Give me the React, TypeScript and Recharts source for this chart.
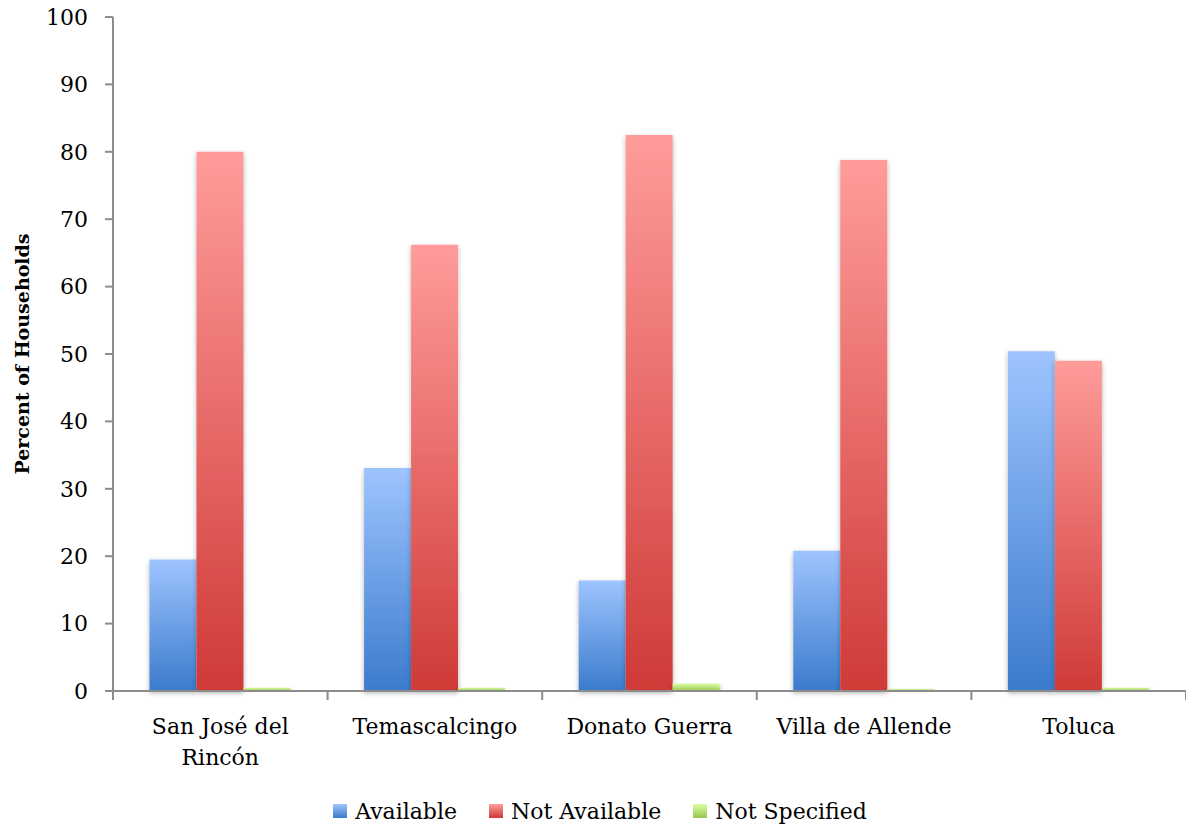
import React from 'react';
import { BarChart, Bar, XAxis, YAxis, Legend } from 'recharts';

const towns = ['San José del Rincón', 'Temascalcingo', 'Donato Guerra', 'Villa de Allende', 'Toluca'];
const available = [19.5, 33.1, 16.4, 20.8, 50.4];
const notAvailable = [80.0, 66.2, 82.5, 78.8, 49.0];
const notSpecified = [0.5, 0.5, 1.1, 0.3, 0.5];
const yTicks = [0, 10, 20, 30, 40, 50, 60, 70, 80, 90, 100];

const series = [
  { key: 'available', name: 'Available', top: '#9ec4ff', bottom: '#3b7bcc' },
  { key: 'notAvailable', name: 'Not Available', top: '#ff9c9a', bottom: '#cf3a37' },
  { key: 'notSpecified', name: 'Not Specified', top: '#dcffa6', bottom: '#98c44c' },
];

const data = towns.map((town, i) => ({
  town,
  available: available[i],
  notAvailable: notAvailable[i],
  notSpecified: notSpecified[i],
}));

const FONT = '"DejaVu Serif", serif';
const AXIS = '#8c8c8c';

// long names go on two lines, like the original
const wrap = (label: string) => {
  if (label.length <= 17) return [label];
  const lines: string[] = [];
  let cur = '';
  label.split(' ').forEach(w => {
    if (cur && (cur + ' ' + w).length > 13) {
      lines.push(cur);
      cur = w;
    } else {
      cur = cur ? cur + ' ' + w : w;
    }
  });
  if (cur) lines.push(cur);
  return lines;
};

const TownTick = (props: any) => {
  const { x, y, payload, index, width, visibleTicksCount } = props;
  const count = visibleTicksCount || towns.length;
  const half = width / count / 2;
  const lines = wrap(String(payload.value));
  return (
    <g>
      <line x1={x - half} x2={x - half} y1={y} y2={y + 9} stroke={AXIS} strokeWidth={2} />
      {index === count - 1 && (
        <line x1={x + half} x2={x + half} y1={y} y2={y + 9} stroke={AXIS} strokeWidth={2} />
      )}
      <text x={x} y={y + 43} textAnchor="middle" fontFamily={FONT} fontSize={22} fill="#000">
        {lines.map((l, i) => (
          <tspan key={i} x={x} dy={i === 0 ? 0 : 31}>{l}</tspan>
        ))}
      </text>
    </g>
  );
};

const LegendBox = () => (
  <div style={{ height: 40, display: 'flex', justifyContent: 'center', alignItems: 'center', paddingLeft: 14, fontFamily: FONT, fontSize: 22, color: '#000' }}>
    {series.map(s => (
      <div key={s.key} style={{ display: 'flex', alignItems: 'center', margin: '0 16px' }}>
        <div style={{ width: 14, height: 14, marginRight: 8, background: `linear-gradient(${s.top}, ${s.bottom})` }} />
        <span>{s.name}</span>
      </div>
    ))}
  </div>
);

const YLabel = (props: any) => {
  const { viewBox } = props;
  const cx = 22;
  const cy = viewBox.y + viewBox.height / 2;
  return (
    <text x={cx} y={cy} transform={`rotate(-90 ${cx} ${cy})`} textAnchor="middle" dominantBaseline="central"
      fontFamily={FONT} fontSize={19} fontWeight="bold" fill="#000">
      Percent of Households
    </text>
  );
};

export default function App() {
  return (
    <div style={{ position: 'absolute', left: 0, top: 0, background: '#fff' }}>
      <BarChart width={1186} height={831} data={data} margin={{ top: 17, right: 0, left: 0, bottom: 0 }}
        barCategoryGap="17%" barGap={0}>
        <defs>
          {series.map(s => (
            <linearGradient key={s.key} id={`grad-${s.key}`} x1="0" y1="0" x2="0" y2="1">
              <stop offset="0%" stopColor={s.top} />
              <stop offset="100%" stopColor={s.bottom} />
            </linearGradient>
          ))}
          <filter id="shadow" x="-20%" y="-5%" width="140%" height="115%">
            <feDropShadow dx="0" dy="2" stdDeviation="2.5" floodColor="#000" floodOpacity="0.3" />
          </filter>
        </defs>
        <XAxis dataKey="town" height={100} stroke={AXIS} strokeWidth={2} tickLine={false} tickSize={0}
          tickMargin={0} interval={0} tick={<TownTick />} />
        <YAxis width={113} domain={[0, 100]} ticks={yTicks} interval={0} tickSize={8} tickMargin={17}
          stroke={AXIS} strokeWidth={2}
          tick={{ fill: '#000', fontFamily: FONT, fontSize: 22 }}
          label={<YLabel />} />
        <Legend verticalAlign="bottom" content={<LegendBox />} />
        {series.map(s => (
          <Bar key={s.key} dataKey={s.key} name={s.name} fill={`url(#grad-${s.key})`}
            filter="url(#shadow)" isAnimationActive={false} />
        ))}
      </BarChart>
    </div>
  );
}
